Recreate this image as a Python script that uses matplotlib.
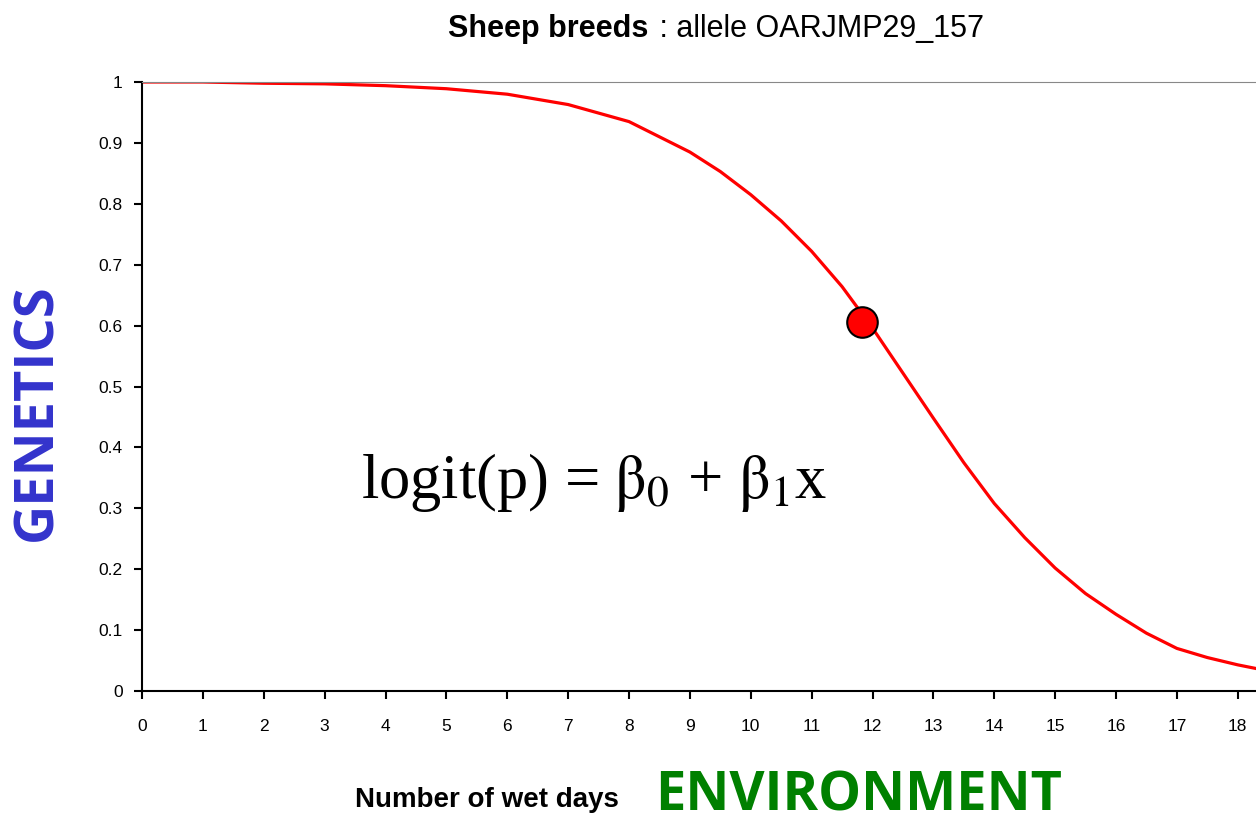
import matplotlib
matplotlib.use("Agg")
import matplotlib.pyplot as plt

# curve (wet days vs. allele frequency)
wet_days = [0, 1, 2, 3, 4, 5, 6, 7, 8, 9, 9.5, 10, 10.5, 11, 11.5, 12, 12.5,
            13, 13.5, 14, 14.5, 15, 15.5, 16, 16.5, 17, 17.5, 18, 18.3]
freq = [1.0, 1.0, 0.998, 0.997, 0.994, 0.989, 0.980, 0.963, 0.935, 0.885,
        0.853, 0.815, 0.772, 0.722, 0.664, 0.596, 0.522, 0.448, 0.375,
        0.308, 0.252, 0.202, 0.160, 0.126, 0.095, 0.070, 0.055, 0.043, 0.037]

point_x = [11.82]
point_y = [0.606]

x_ticks = list(range(0, 19))
y_ticks = [0, 0.1, 0.2, 0.3, 0.4, 0.5, 0.6, 0.7, 0.8, 0.9, 1]
y_labels = ["0", "0.1", "0.2", "0.3", "0.4", "0.5", "0.6", "0.7", "0.8", "0.9", "1"]

plt.rcParams['font.family'] = ['Liberation Sans', 'DejaVu Sans']
plt.rcParams['mathtext.fontset'] = 'stix'

fig = plt.figure(figsize=(12.56, 8.26), dpi=100)
ax = fig.add_axes([0.1131, 0.1634, 0.8869, 0.7373])

ax.plot(wet_days, freq, color='red', linewidth=2.3)
ax.plot(point_x, point_y, 'o', markersize=22, markerfacecolor='red',
        markeredgecolor='black', markeredgewidth=1.5)

ax.set_xlim(0, 18.3)
ax.set_ylim(0, 1)
ax.set_xticks(x_ticks)
ax.set_yticks(y_ticks)
ax.set_yticklabels(y_labels)
ax.tick_params(direction='out', length=6, width=1.5, labelsize=12.5)
ax.tick_params(axis='x', pad=14)
ax.tick_params(axis='y', pad=8)

ax.spines['right'].set_visible(False)
ax.spines['top'].set_color('#888888')
ax.spines['left'].set_linewidth(1.5)
ax.spines['bottom'].set_linewidth(1.5)

# formula inside the plot
ax.text(7.42, 0.342, r"logit(p) = $\mathrm{\beta}_0$ + $\mathrm{\beta}_1$x",
        fontsize=45, family='Liberation Serif', ha='center', va='center')

# title in two parts: bold + normal
fig.text(0.516, 0.965, "Sheep breeds", fontsize=22, fontweight='bold',
         ha='right', va='center')
fig.text(0.518, 0.965, " : allele OARJMP29_157", fontsize=22,
         ha='left', va='center')

fig.text(0.388, 0.032, "Number of wet days", fontsize=20, fontweight='bold',
         ha='center', va='center')

fig.text(0.684, 0.003, "ENVIRONMENT", fontsize=39, fontweight='bold',
         color='#008000', family='Open Sans', ha='center', va='bottom')
fig.text(0.0295, 0.501, "GENETICS", fontsize=39, fontweight='bold',
         color='#3333cc', family='Open Sans', rotation=90,
         ha='center', va='center')

fig.savefig("out.png", dpi=100)
